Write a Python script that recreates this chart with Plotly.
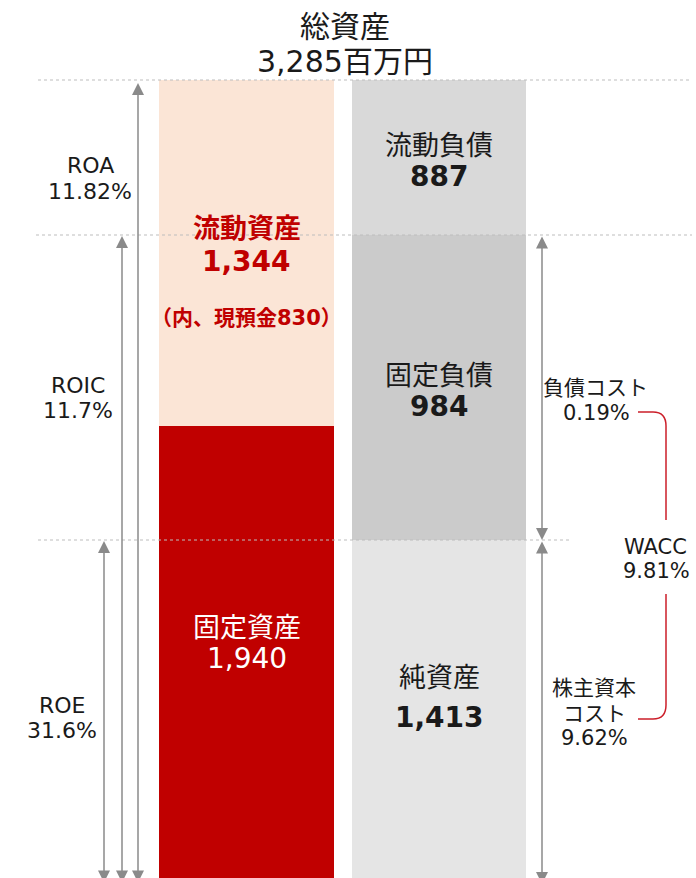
import numpy as np
import plotly.graph_objects as go

# ---- data ----
categories = ["資産", "負債・純資産"]

asset_items = ["固定資産", "流動資産"]  # bottom -> top
asset_values = [1940, 1344]
liab_items = ["純資産", "固定負債", "流動負債"]  # bottom -> top
liab_values = [1413, 984, 887]

# the reference draws the blocks schematically, not to scale:
# heights as drawn (px), bottom -> top
asset_drawn = [452, 346]
liab_drawn = [338, 305, 155]

total_assets = 3285
cash_deposits = 830

roa = 11.82
roic = 11.7
roe = 31.6
debt_cost = 0.19
wacc = 9.81
equity_cost = 9.62

asset_colors = ["#C00000", "#FBE5D6"]
liab_colors = ["#E5E5E5", "#CBCBCB", "#D9D9D9"]

W, H = 696, 878
FONT = "DejaVu Sans, Noto Sans CJK JP"
TEXT = "#1a1a1a"
RED = "#C00000"
GRAY = "#8a8a8a"


def px(x):
    return x / W


def py(y):
    return H - y


fig = go.Figure()

for name, h, c in zip(asset_items, asset_drawn, asset_colors):
    fig.add_trace(go.Bar(x=[categories[0]], y=[h], name=name, marker=dict(color=c, line=dict(width=0)),
                         width=0.909, hoverinfo="skip"))
for name, h, c in zip(liab_items, liab_drawn, liab_colors):
    fig.add_trace(go.Bar(x=[categories[1]], y=[h], name=name, marker=dict(color=c, line=dict(width=0)),
                         width=0.904, hoverinfo="skip"))

# boundaries of the right column -> dotted guides
bounds = np.cumsum(liab_drawn)
guides = [(bounds[2], 38, 692), (bounds[1], 36, 692), (bounds[0], 38, 570)]
for yv, x0, x1 in guides:
    fig.add_shape(type="line", xref="paper", yref="y", x0=px(x0), x1=px(x1), y0=yv, y1=yv,
                  line=dict(color="#BDBDBD", width=1, dash="dot"), layer="above")


def label(x, y, text, size, color=TEXT, bold=False, xref="paper"):
    fig.add_annotation(xref=xref, yref="y", x=px(x) if xref == "paper" else x, y=py(y),
                       text=f"<b>{text}</b>" if bold else text, showarrow=False,
                       font=dict(size=size, color=color, family=FONT),
                       xanchor="center", yanchor="middle")


def arrow(x, y_from, y_to):
    fig.add_annotation(xref="paper", x=px(x), yref="y", y=y_to, axref="pixel", ax=0,
                       ayref="y", ay=y_from, text="", showarrow=True,
                       arrowhead=2, startarrowhead=2, arrowside="end+start",
                       arrowsize=1.6, startarrowsize=1.6, arrowwidth=1.5,
                       arrowcolor=GRAY, standoff=0, startstandoff=0)


# title
label(345, 26, "総資産", 30)
label(345, 61, f"{total_assets:,}百万円", 30)

# left column labels
a_bot, a_top = asset_items
label(categories[0], 228, a_top, 27, RED, True, xref="x")
label(categories[0], 261, f"{asset_values[1]:,}", 28, RED, True, xref="x")
label(categories[0], 318, f"（内、現預金{cash_deposits}）", 21, RED, True, xref="x")
label(categories[0], 627, a_bot, 27, "white", xref="x")
label(categories[0], 658, f"{asset_values[0]:,}", 28, "white", xref="x")

# right column labels
label(categories[1], 145, liab_items[2], 27, xref="x")
label(categories[1], 176, f"{liab_values[2]:,}", 28, TEXT, True, xref="x")
label(categories[1], 375, liab_items[1], 27, xref="x")
label(categories[1], 406, f"{liab_values[1]:,}", 28, TEXT, True, xref="x")
label(categories[1], 677, liab_items[0], 27, xref="x")
label(categories[1], 717, f"{liab_values[0]:,}", 28, TEXT, True, xref="x")

# ratio labels
label(90, 165, "ROA", 22)
label(90, 191, f"{roa:.2f}%", 22)
label(78, 385, "ROIC", 22)
label(78, 410, f"{roic}%", 22)
label(62, 705, "ROE", 22)
label(62, 730, f"{roe}%", 22)
label(595, 388, "負債コスト", 21)
label(596, 413, f"{debt_cost:.2f}%", 21)
label(655, 547, "WACC", 21)
label(656, 571, f"{wacc:.2f}%", 21)
label(594, 688, "株主資本", 21)
label(594, 714, "コスト", 21)
label(594, 738, f"{equity_cost:.2f}%", 21)

# arrows (bottom heads run off the page edge, as in the reference)
bottom = -6
arrow(138, bottom, bounds[2] - 3)
arrow(122, bottom, bounds[1] - 1)
arrow(104, bottom, bounds[0] - 1)
arrow(542, bounds[1], bounds[0])
arrow(542, bounds[0], bottom)

# red brackets
upper = (f"M {px(638)},{py(412)} L {px(653)},{py(412)} "
         f"Q {px(666)},{py(412)} {px(666)},{py(426)} L {px(666)},{py(520)}")
lower = (f"M {px(666)},{py(594)} L {px(666)},{py(705)} "
         f"Q {px(666)},{py(719)} {px(653)},{py(719)} L {px(638)},{py(719)}")
for p in (upper, lower):
    fig.add_shape(type="path", xref="paper", yref="y", path=p, line=dict(color="#CC1F2A", width=1.5))

fig.update_layout(
    width=W,
    height=H,
    barmode="stack",
    showlegend=False,
    margin=dict(l=0, r=0, t=0, b=0),
    paper_bgcolor="white",
    plot_bgcolor="white",
    xaxis=dict(type="category", range=[-1.2805, 2.335], visible=False, fixedrange=True),
    yaxis=dict(range=[0, H], visible=False, fixedrange=True),
)

fig.write_html("out.html", config={"displayModeBar": False},
               post_script="document.body.style.margin='0';document.body.style.overflow='hidden';")
